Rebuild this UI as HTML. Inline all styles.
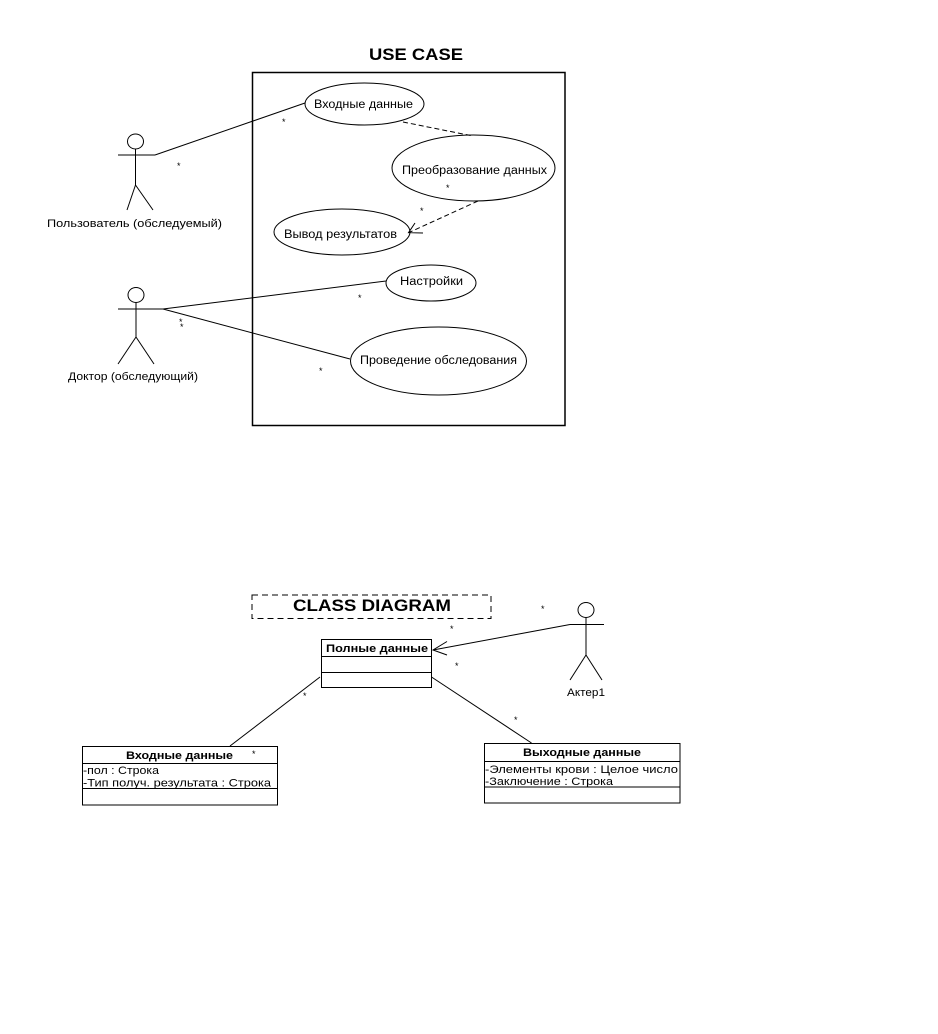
<!DOCTYPE html>
<html>
<head>
<meta charset="utf-8">
<style>
html,body{margin:0;padding:0;background:#fff;}
svg{display:block;}
text{font-family:"Liberation Sans","DejaVu Sans",sans-serif;fill:#000;}
</style>
</head>
<body>
<svg width="938" height="1034" viewBox="0 0 938 1034" xmlns="http://www.w3.org/2000/svg">
<rect x="0" y="0" width="938" height="1034" fill="#fff"/>

<!-- USE CASE title -->
<text x="369" y="60" font-size="17" font-weight="bold" textLength="94" lengthAdjust="spacingAndGlyphs">USE CASE</text>

<!-- System boundary -->
<rect x="252.5" y="72.5" width="312.5" height="353" fill="none" stroke="#000" stroke-width="1.5"/>

<!-- Actor 1 -->
<g stroke="#000" stroke-width="1" fill="none">
  <ellipse cx="135.5" cy="141.5" rx="8" ry="7.5"/>
  <line x1="135.5" y1="149" x2="135.5" y2="185"/>
  <line x1="118" y1="155" x2="155" y2="155"/>
  <line x1="135.5" y1="185" x2="127" y2="210"/>
  <line x1="135.5" y1="185" x2="153" y2="210"/>
</g>
<text x="47" y="227" font-size="11" textLength="175" lengthAdjust="spacingAndGlyphs">Пользователь (обследуемый)</text>

<!-- Actor 2 -->
<g stroke="#000" stroke-width="1" fill="none">
  <ellipse cx="136" cy="295" rx="8" ry="7.5"/>
  <line x1="136" y1="302.5" x2="136" y2="337"/>
  <line x1="118" y1="309" x2="163" y2="309"/>
  <line x1="136" y1="337" x2="118" y2="364"/>
  <line x1="136" y1="337" x2="154" y2="364"/>
</g>
<text x="68" y="380" font-size="11" textLength="130" lengthAdjust="spacingAndGlyphs">Доктор (обследующий)</text>

<!-- Associations -->
<g stroke="#000" stroke-width="1" fill="none">
  <line x1="155" y1="155" x2="305" y2="103"/>
  <line x1="163" y1="309" x2="386" y2="281"/>
  <line x1="163" y1="309" x2="350" y2="359"/>
</g>

<!-- Use cases -->
<g stroke="#000" stroke-width="1" fill="#fff">
  <ellipse cx="364.5" cy="104" rx="59.5" ry="21"/>
  <ellipse cx="473.5" cy="168" rx="81.5" ry="33"/>
  <ellipse cx="342" cy="232" rx="68" ry="23"/>
  <ellipse cx="431" cy="283" rx="45" ry="18"/>
  <ellipse cx="438.5" cy="361" rx="88" ry="34"/>
</g>
<text x="314" y="108" font-size="11.5" textLength="99" lengthAdjust="spacingAndGlyphs">Входные данные</text>
<text x="402" y="174" font-size="11.5" textLength="145" lengthAdjust="spacingAndGlyphs">Преобразование данных</text>
<text x="284" y="238" font-size="11.5" textLength="113" lengthAdjust="spacingAndGlyphs">Вывод результатов</text>
<text x="400" y="285" font-size="11.5" textLength="63" lengthAdjust="spacingAndGlyphs">Настройки</text>
<text x="360" y="364" font-size="11.5" textLength="157" lengthAdjust="spacingAndGlyphs">Проведение обследования</text>

<!-- Dependencies (dashed) -->
<g stroke="#000" stroke-width="1" fill="none">
  <line x1="403" y1="122" x2="473" y2="136" stroke-dasharray="5,3"/>
  <line x1="478" y1="201" x2="409" y2="232.5" stroke-dasharray="5,3"/>
  <polyline points="415,223 408.5,232.7 423,233"/>
</g>

<!-- multiplicity stars -->
<g font-size="9">
  <text x="282" y="125">*</text>
  <text x="177" y="169">*</text>
  <text x="446" y="191">*</text>
  <text x="420" y="214">*</text>
  <text x="358" y="301">*</text>
  <text x="179" y="325">*</text>
  <text x="180" y="330">*</text>
  <text x="319" y="374">*</text>
</g>

<!-- CLASS DIAGRAM title -->
<rect x="252" y="595" width="239" height="23.5" fill="none" stroke="#000" stroke-width="1" stroke-dasharray="6,4"/>
<text x="293" y="611" font-size="17" font-weight="bold" textLength="158" lengthAdjust="spacingAndGlyphs">CLASS DIAGRAM</text>

<!-- Полные данные -->
<rect x="321.5" y="639.5" width="110" height="48" fill="#fff" stroke="#000" stroke-width="1"/>
<line x1="321.5" y1="656.5" x2="431.5" y2="656.5" stroke="#000"/>
<line x1="321.5" y1="672.5" x2="431.5" y2="672.5" stroke="#000"/>
<text x="326" y="652" font-size="11" font-weight="bold" textLength="102" lengthAdjust="spacingAndGlyphs">Полные данные</text>

<!-- Actor1 -->
<g stroke="#000" stroke-width="1" fill="none">
  <ellipse cx="586" cy="610" rx="8" ry="7.5"/>
  <line x1="586" y1="617.5" x2="586" y2="655"/>
  <line x1="570" y1="624.5" x2="604" y2="624.5"/>
  <line x1="586" y1="655" x2="570" y2="680"/>
  <line x1="586" y1="655" x2="602" y2="680"/>
</g>
<text x="567" y="696" font-size="11" textLength="38" lengthAdjust="spacingAndGlyphs">Актер1</text>

<!-- navigable association with open arrow -->
<g stroke="#000" stroke-width="1" fill="none">
  <line x1="570" y1="624.5" x2="433" y2="650"/>
  <polyline points="447,641.5 433,650 447,655"/>
  <line x1="320" y1="677" x2="230" y2="746"/>
  <line x1="431.5" y1="677" x2="531.5" y2="743"/>
</g>

<g font-size="9">
  <text x="541" y="612">*</text>
  <text x="450" y="632">*</text>
  <text x="455" y="669">*</text>
  <text x="303" y="699">*</text>
  <text x="250" y="754">*</text>
  <text x="514" y="723">*</text>
</g>

<!-- Входные данные class -->
<rect x="82.5" y="746.5" width="195" height="58.5" fill="#fff" stroke="#000" stroke-width="1"/>
<line x1="82.5" y1="763.5" x2="277.5" y2="763.5" stroke="#000"/>
<line x1="82.5" y1="788.5" x2="277.5" y2="788.5" stroke="#000"/>
<text x="126" y="759" font-size="11" font-weight="bold" textLength="107" lengthAdjust="spacingAndGlyphs">Входные данные</text>
<text x="252" y="757" font-size="9">*</text>
<text x="83" y="774" font-size="11" textLength="76" lengthAdjust="spacingAndGlyphs">-пол : Строка</text>
<text x="83" y="786.5" font-size="11" textLength="188" lengthAdjust="spacingAndGlyphs">-Тип получ. результата : Строка</text>

<!-- Выходные данные class -->
<rect x="484.5" y="743.5" width="195.5" height="59.5" fill="#fff" stroke="#000" stroke-width="1"/>
<line x1="484.5" y1="761.5" x2="680" y2="761.5" stroke="#000"/>
<line x1="484.5" y1="787" x2="680" y2="787" stroke="#000"/>
<text x="523" y="756" font-size="11" font-weight="bold" textLength="118" lengthAdjust="spacingAndGlyphs">Выходные данные</text>
<text x="485" y="773" font-size="11" textLength="193" lengthAdjust="spacingAndGlyphs">-Элементы крови : Целое число</text>
<text x="485" y="785" font-size="11" textLength="128" lengthAdjust="spacingAndGlyphs">-Заключение : Строка</text>
</svg>
</body>
</html>
